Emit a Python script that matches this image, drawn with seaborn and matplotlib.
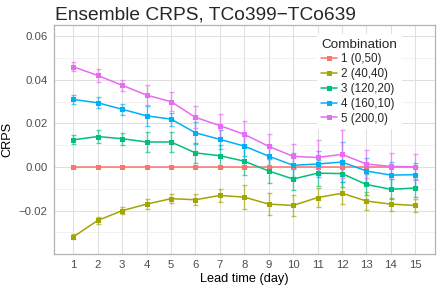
import matplotlib
matplotlib.use("Agg")
import matplotlib.pyplot as plt
import seaborn as sns
import pandas as pd
from matplotlib.ticker import MultipleLocator

# Datos
lead_days = list(range(1, 16))
combinaciones = ["1 (0,50)", "2 (40,40)", "3 (120,20)", "4 (160,10)", "5 (200,0)"]
colores = ["#F8766D", "#A3A500", "#00BF7D", "#00B0F6", "#E76BF3"]

crps_1 = [0.0] * 15
crps_2 = [-0.032, -0.0245, -0.020, -0.017, -0.0145, -0.015, -0.013, -0.0138,
          -0.017, -0.0176, -0.014, -0.012, -0.0156, -0.017, -0.0176]
crps_3 = [0.0125, 0.014, 0.013, 0.0115, 0.0115, 0.0065, 0.0052, 0.0027,
          -0.0018, -0.0055, -0.0028, -0.003, -0.008, -0.0102, -0.0096]
crps_4 = [0.031, 0.0295, 0.0265, 0.0235, 0.022, 0.0157, 0.0127, 0.0096,
          0.005, 0.0008, 0.0014, 0.0023, -0.0018, -0.0037, -0.0035]
crps_5 = [0.046, 0.042, 0.0375, 0.033, 0.030, 0.0228, 0.019, 0.015,
          0.0095, 0.0049, 0.0044, 0.0058, 0.0014, 0.0003, 0.0001]

err_1 = [0.0] * 15
err_2 = [0.0012, 0.0017, 0.0017, 0.0022, 0.0022, 0.0025, 0.0030, 0.0055,
         0.0052, 0.0050, 0.0045, 0.0050, 0.0040, 0.0030, 0.0030]
err_3 = [0.0020, 0.0030, 0.0027, 0.0045, 0.0044, 0.0045, 0.0050, 0.0065,
         0.0054, 0.0050, 0.0060, 0.0060, 0.0050, 0.0045, 0.0040]
err_4 = [0.0020, 0.0026, 0.0025, 0.0045, 0.0030, 0.0050, 0.0045, 0.0045,
         0.0050, 0.0055, 0.0060, 0.0090, 0.0060, 0.0060, 0.0055]
err_5 = [0.0021, 0.0028, 0.0026, 0.0046, 0.0043, 0.0050, 0.0054, 0.0060,
         0.0056, 0.0058, 0.0080, 0.0110, 0.0065, 0.0060, 0.0060]

valores = [crps_1, crps_2, crps_3, crps_4, crps_5]
errores = [err_1, err_2, err_3, err_4, err_5]

filas = []
for nom, vals, errs in zip(combinaciones, valores, errores):
    for d, v, e in zip(lead_days, vals, errs):
        filas.append({"Lead": d, "CRPS": v, "err": e, "Combination": nom})
df = pd.DataFrame(filas)

sns.set_theme(style="whitegrid")
plt.rcParams['font.family'] = ['Liberation Sans', 'DejaVu Sans']

fig = plt.figure(figsize=(4.41, 2.89), dpi=100)
ax = fig.add_axes([0.122, 0.121, 0.864, 0.792])

# Barras de error
for nom, col in zip(combinaciones, colores):
    sub = df[df["Combination"] == nom]
    ax.errorbar(sub["Lead"], sub["CRPS"], yerr=sub["err"], fmt="none",
                ecolor=col, elinewidth=1.0, capsize=1.8, capthick=1.0,
                alpha=0.65, zorder=2)

sns.lineplot(data=df, x="Lead", y="CRPS", hue="Combination",
             hue_order=combinaciones, palette=colores, marker="s",
             markersize=3.6, markeredgewidth=0, linewidth=1.1, ax=ax,
             zorder=3)

ax.set_xlim(0.2, 15.8)
ax.set_ylim(-0.0399, 0.0651)
ax.set_xticks(lead_days)
ax.yaxis.set_major_locator(MultipleLocator(0.02))
ax.yaxis.set_minor_locator(MultipleLocator(0.01))
ax.yaxis.set_major_formatter(plt.FuncFormatter(
    lambda v, p: ("%.2f" % v).replace("-", "\u2212") if abs(v) > 1e-9 else "0.00"))

ax.grid(which="major", color="#DEDEDE", linewidth=0.7)
ax.grid(which="minor", axis="y", color="#EDEDED", linewidth=0.5)
ax.grid(which="minor", axis="x", visible=False)
for s in ax.spines.values():
    s.set_color("#B3B3B3")
    s.set_linewidth(0.9)
ax.tick_params(axis="both", which="major", labelsize=8.2, labelcolor="#4D4D4D",
               length=2.5, width=0.6, color="#B3B3B3", pad=2)
ax.tick_params(axis="both", which="minor", length=0)

ax.set_xlabel("Lead time (day)", fontsize=9.2, color="black", labelpad=2)
ax.set_ylabel("CRPS", fontsize=9.2, color="black", labelpad=4)
fig.text(0.124, 1 - 19 / 289, "Ensemble CRPS, TCo399\u2212TCo639", fontsize=13.8,
         ha="left", va="baseline")

leg = ax.legend(title="Combination", loc="upper left",
                bbox_to_anchor=(0.69, 0.962), fontsize=8.4, title_fontsize=9.7,
                frameon=True, fancybox=False, framealpha=1.0, edgecolor="white",
                handlelength=1.3, handletextpad=0.4, labelspacing=0.24,
                borderpad=0.4, borderaxespad=0)
leg._legend_box.align = "left"
leg.get_frame().set_linewidth(0)

fig.savefig("out.png", dpi=100)
